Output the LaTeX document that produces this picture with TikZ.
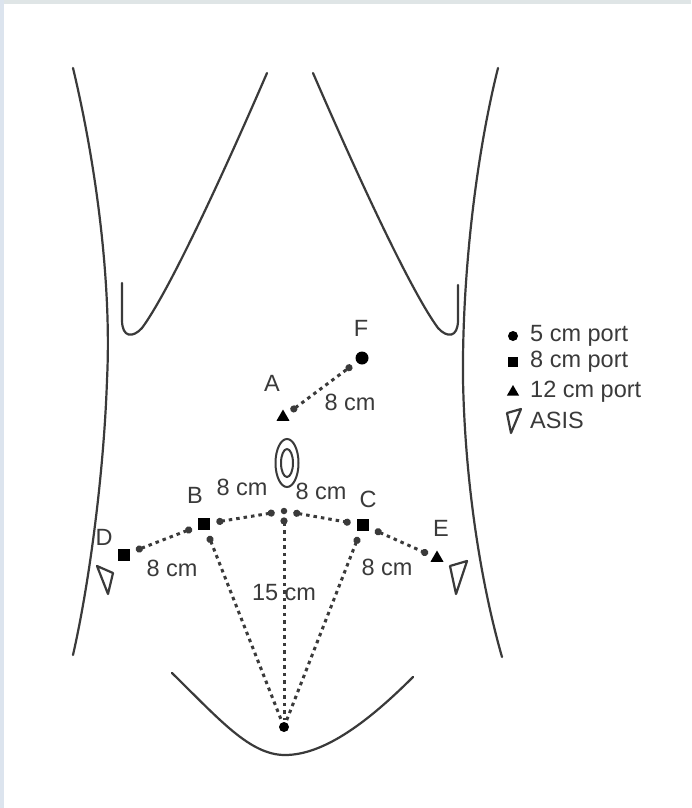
\documentclass[tikz,border=0pt]{standalone}
\usepackage{fontspec}
\setmainfont{Liberation Sans}
\usetikzlibrary{arrows.meta,shapes.geometric}

\definecolor{ink}{HTML}{3a3a3a}
\definecolor{bandtop}{HTML}{DFE5E6}
\definecolor{bandleft}{HTML}{DCE4EE}

\begin{document}
\begin{tikzpicture}[x=1pt,y=-1pt,
  every node/.style={font=\fontsize{23.5pt}{28pt}\selectfont, text=ink, inner sep=0pt},
  outline/.style={draw=ink, line width=2.2pt, line cap=round},
  dimline/.style={draw=ink, line width=3pt, dash pattern=on 3.5pt off 4pt,
    {Circle[length=7pt]}-{Circle[length=7pt]}, shorten <=6pt, shorten >=6pt},
  toapex/.style={draw=ink, line width=3pt, dash pattern=on 3.5pt off 4pt,
    {Circle[length=7pt]}-, shorten <=6pt, shorten >=2pt},
  sqport/.style={rectangle, fill=black, minimum size=12.5pt},
  triport/.style={regular polygon, regular polygon sides=3, fill=black, minimum size=15pt},
  dotport/.style={circle, fill=black, minimum size=13pt},
  hubdot/.style={circle, fill=ink, minimum size=6.5pt},
  asis/.style={draw=ink, line width=2.2pt, line join=round}
]
% page and thin edge bands
\fill[white] (0,0) rectangle (691,808);
\useasboundingbox (0,0) rectangle (691,808);
\fill[bandtop] (0,0) rectangle (691,4);
\fill[bandleft] (0,0) rectangle (4,808);

% torso outline
\draw[outline] (73,68) .. controls (95,160) and (112,280) .. (107,380)
               .. controls (104,470) and (90,580) .. (73,655);
\draw[outline] (498,68) .. controls (475,160) and (462,280) .. (463,380)
               .. controls (465,480) and (480,580) .. (502,657);
% costal margins
\draw[outline] (267,73) .. controls (225,170) and (170,290) .. (142,328)
               .. controls (133,338) and (122,338) .. (122,320) -- (122,283);
\draw[outline] (313,73) .. controls (355,170) and (410,290) .. (438,328)
               .. controls (447,338) and (458,338) .. (458,320) -- (458,285);
% pubic line
\draw[outline] (172,673) .. controls (220,720) and (250,755) .. (285,755)
               .. controls (325,755) and (370,720) .. (413,677);

% umbilicus
\draw[ink, line width=2pt] (287,463) ellipse [x radius=11.5, y radius=24];
\draw[ink, line width=2pt] (287,463) ellipse [x radius=6, y radius=14];

% ports
\node[dotport] (F) at (362,358) {};
\node[triport] (A) at (283,417) {};
\node[sqport] (B) at (204,524) {};
\node[sqport] (C) at (363,525) {};
\node[sqport] (D) at (124,555) {};
\node[triport] (E) at (437,558) {};
\node[hubdot] (H) at (284,511) {};
\node[circle, fill=black, minimum size=10pt] (P) at (284,727) {};

% port labels
\node at (361,328) {F};
\node at (272,383) {A};
\node at (195,495) {B};
\node at (368,499) {C};
\node at (104,537) {D};
\node at (441,528) {E};

% distances
\draw[dimline] (A) -- (F);
\draw[dimline] (H) -- (B);
\draw[dimline] (H) -- (C);
\draw[dimline] (B) -- (D);
\draw[dimline] (C) -- (E);
\draw[toapex, shorten <=3pt] (H) -- (P);
\draw[toapex] (B) -- (P);
\draw[toapex] (C) -- (P);

\node at (350,402) {8 cm};
\node at (242,487) {8 cm};
\node at (321,491) {8 cm};
\node at (172,568) {8 cm};
\node at (387,567) {8 cm};
\node at (284,593) {15 cm};

% anterior superior iliac spines
\draw[asis] (97,566) -- (113,573) -- (108,594) -- cycle;
\draw[asis] (450,566) -- (467,561) -- (456,594) -- cycle;

% legend
\node[circle, fill=black, minimum size=10pt] (k1) at (513,336) {};
\node[rectangle, fill=black, minimum size=10pt] (k2) at (513,362) {};
\node[regular polygon, regular polygon sides=3, fill=black, minimum size=14pt] (k3) at (513,392) {};
\draw[asis] (507,413) -- (521,409) -- (511,433) -- cycle;
\node[anchor=west] at (530,336) {5 cm port};
\node[anchor=west] at (530,362) {8 cm port};
\node[anchor=west] at (530,392) {12 cm port};
\node[anchor=west] at (530,420) {ASIS};
\end{tikzpicture}
\end{document}
